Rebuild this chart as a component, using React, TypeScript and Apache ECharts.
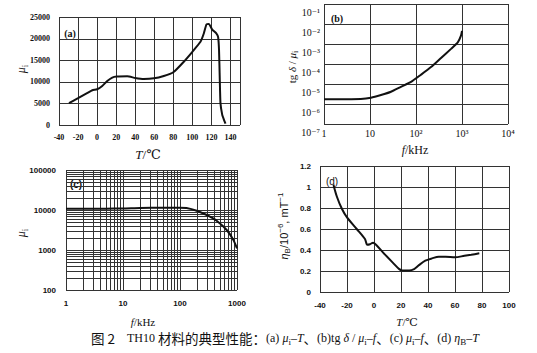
import React, { useEffect, useRef } from "react";
import * as echarts from "echarts";

// (a) μi – T
const aTemp = [-29.5, -20, -9.6, -5, 0, 5.4, 10.7, 15.9, 20.5, 31.7, 40, 49, 59.6, 70, 80, 91, 100, 108.5, 112, 114.8, 117.3, 120.8, 125.3, 127, 128, 128.7, 129.5, 131.3, 133, 134.8];
const aMu = [5060, 6200, 7500, 8050, 8280, 9050, 10200, 10970, 11200, 11270, 10890, 10660, 10810, 11350, 12200, 14650, 16950, 19250, 21170, 23300, 23400, 22100, 21170, 20400, 17300, 11200, 5060, 2400, 1300, 300];
const aXRange = [-40, 150];
const aYRange = [0, 25000];
const aXGrid = [-20, 0, 20, 40, 60, 80, 100, 120, 140];
const aYGrid = [5000, 10000, 15000, 20000];

// (b) tgδ/μi – f
const bFreq = [1, 3, 6.3, 10.5, 17.3, 28.6, 47, 78, 128, 212, 350, 577, 810, 950, 1000];
const bTan = [1.75e-6, 1.75e-6, 1.78e-6, 2.05e-6, 2.8e-6, 4.1e-6, 7.2e-6, 1.27e-5, 2.9e-5, 7.0e-5, 2.0e-4, 5.7e-4, 1.2e-3, 2.6e-3, 4.5e-3];
const bXRange = [1, 10000];
const bYRange = [1e-7, 1e-1];
const bXGrid = [10, 100, 1000];
const bYGrid = [1e-6, 1e-5, 1e-4, 1e-3, 1e-2];

// (c) μi – f
const cFreq = [1, 5, 10, 20, 50, 100, 130, 196, 295, 439, 660, 865, 1000];
const cMu = [10800, 10800, 10900, 11300, 11400, 11400, 11200, 9600, 7500, 5400, 3160, 1780, 1100];
const cXRange = [1, 1000];
const cYRange = [100, 100000];
const cXDecades = [1, 10, 100];
const cYDecades = [100, 1000, 10000];
const logMult = [1, 2, 3, 4, 5, 6, 7, 8, 9];

// (d) ηB – T
const dTemp = [-30, -27.4, -23.7, -20, -12.8, -6.7, -5, -3, -0.7, 1.7, 6.6, 13.9, 18.7, 21, 26, 29.7, 33.3, 38, 43, 48, 53, 60, 67, 72, 78];
const dEta = [1.02, 0.905, 0.79, 0.71, 0.6, 0.505, 0.45, 0.455, 0.47, 0.448, 0.378, 0.28, 0.218, 0.205, 0.205, 0.218, 0.256, 0.298, 0.32, 0.336, 0.336, 0.33, 0.345, 0.355, 0.368];
const dXRange = [-40, 100];
const dYRange = [0, 1.2];
const dXGrid = [-20, 0, 20, 40, 60, 80];
const dYGrid = [0.2, 0.4, 0.6, 0.8, 1.0];

const SUP: Record<string, string> = { "-": "⁻", "0": "⁰", "1": "¹", "2": "²", "3": "³", "4": "⁴", "5": "⁵", "6": "⁶", "7": "⁷", "8": "⁸", "9": "⁹" };
const pow10Label = (v: number) => {
  const e = Math.round(Math.log10(v));
  if (e === 0) return "1";
  if (e === 1) return "10";
  return "10" + String(e).split("").map((c) => SUP[c]).join("");
};
const plain = (v: number) => String(Math.round(v));

const INK = "#111";
const GRIDC = "#333";
const SERIF = "'Liberation Serif', 'DejaVu Serif', serif";
const SANS = "'Liberation Sans', Arial, sans-serif";

export default function App() {
  const ref = useRef<HTMLDivElement>(null);
  useEffect(() => {
    if (!ref.current) return;
    const chart = echarts.init(ref.current, undefined, { renderer: "svg" });

    const cXLines: number[] = [];
    cXDecades.forEach((d) => logMult.forEach((m) => { if (d * m > cXRange[0]) cXLines.push(d * m); }));
    const cYLines: number[] = [];
    cYDecades.forEach((d) => logMult.forEach((m) => { if (d * m > cYRange[0]) cYLines.push(d * m); }));

    // grid lines and frame: a custom series; every item is one line [x1, y1, x2, y2] placed by the axes' scales
    const gridSeries = (idx: number, xs: number[], ys: number[], xr: number[], yr: number[]) => {
      const data: number[][] = [];
      [xr[0], ...xs, xr[1]].forEach((x) => data.push([x, yr[0], x, yr[1]]));
      [yr[0], ...ys, yr[1]].forEach((y) => data.push([xr[0], y, xr[1], y]));
      return {
        type: "custom", xAxisIndex: idx, yAxisIndex: idx, silent: true, z: 5, clip: false,
        encode: { x: [0, 2], y: [1, 3] },
        renderItem: (_p: any, api: any) => {
          const p1 = api.coord([api.value(0), api.value(1)]);
          const p2 = api.coord([api.value(2), api.value(3)]);
          const vertical = Math.abs(p1[0] - p2[0]) < 0.5;
          const cx = Math.round(p1[0]) + 0.5;
          const cy = Math.round(p1[1]) + 0.5;
          return {
            type: "line",
            z2: 10,
            shape: vertical
              ? { x1: cx, y1: p1[1], x2: cx, y2: p2[1] }
              : { x1: p1[0], y1: cy, x2: p2[0], y2: cy },
            style: { stroke: GRIDC, lineWidth: 1, opacity: 1 },
          };
        },
        data,
      };
    };

    const gridBase = { show: false, containLabel: false };
    const noSplit = { show: false };
    const axLine = () => ({ show: false, onZero: false });
    const tick = { show: false };

    const lblSerif = { color: INK, fontFamily: SERIF, fontSize: 8, fontWeight: "bold" as const };
    const lblSans = { color: INK, fontFamily: SANS, fontSize: 8, fontWeight: "bold" as const };

    const rich = (size: number, family: string) => ({
      t: { fontSize: size, fontFamily: family, color: INK, lineHeight: size + 4 },
      i: { fontSize: size, fontFamily: family, fontStyle: "italic", color: INK, lineHeight: size + 4 },
      z: { fontSize: size + 1.5, fontFamily: "'Noto Sans CJK SC', sans-serif", color: INK, lineHeight: size + 4 },
      sub: { fontSize: size - 3, fontFamily: family, color: INK, verticalAlign: "bottom", lineHeight: size - 3 },
      sup: { fontSize: size - 3, fontFamily: family, color: INK, verticalAlign: "top", lineHeight: size - 3 },
    });

    const txt = (x: number, y: number, text: string, size: number, family: string, rotate = false, weight = "normal") => ({
      type: "text",
      x,
      y,
      rotation: rotate ? Math.PI / 2 : 0,
      style: {
        text,
        fill: INK,
        fontSize: size,
        fontFamily: family,
        fontWeight: weight,
        align: "center",
        verticalAlign: "middle",
        rich: rich(size, family),
      },
    });

    const curve = (idx: number, xs: number[], ys: number[], smooth: number) => ({
      type: "line", xAxisIndex: idx, yAxisIndex: idx, showSymbol: false, smooth, z: 8,
      lineStyle: { color: INK, width: 2 },
      data: xs.map((x, i) => [x, ys[i]]),
    });

    chart.setOption({
      animation: false,
      backgroundColor: "#fff",
      grid: [
        { ...gridBase, left: 59, top: 17, width: 181, height: 108 },
        { ...gridBase, left: 324, top: 4, width: 184, height: 120 },
        { ...gridBase, left: 66, top: 170, width: 171, height: 120 },
        { ...gridBase, left: 320, top: 166, width: 189, height: 126 },
      ],
      xAxis: [
        {
          gridIndex: 0, type: "value", min: aXRange[0], max: aXRange[1], interval: 20,
          axisLine: axLine(), axisTick: tick, splitLine: noSplit,
          axisLabel: { ...lblSerif, margin: 8, showMaxLabel: false, formatter: plain },
        },
        {
          gridIndex: 1, type: "log", logBase: 10, min: bXRange[0], max: bXRange[1],
          axisLine: axLine(), axisTick: tick, splitLine: noSplit,
          axisLabel: { ...lblSerif, fontWeight: "normal", fontSize: 10, margin: 4, formatter: pow10Label },
        },
        {
          gridIndex: 2, type: "log", logBase: 10, min: cXRange[0], max: cXRange[1],
          axisLine: axLine(), axisTick: tick, splitLine: noSplit,
          axisLabel: { ...lblSans, margin: 9, formatter: plain },
        },
        {
          gridIndex: 3, type: "value", min: dXRange[0], max: dXRange[1], interval: 20,
          axisLine: axLine(), axisTick: tick, splitLine: noSplit,
          axisLabel: { ...lblSans, margin: 9, formatter: plain },
        },
      ],
      yAxis: [
        {
          gridIndex: 0, type: "value", min: aYRange[0], max: aYRange[1], interval: 5000,
          axisLine: axLine(), axisTick: tick, splitLine: noSplit,
          axisLabel: { ...lblSerif, margin: 9, formatter: plain },
        },
        {
          gridIndex: 1, type: "log", logBase: 10, min: bYRange[0], max: bYRange[1],
          axisLine: axLine(), axisTick: tick, splitLine: noSplit,
          axisLabel: { ...lblSerif, fontWeight: "normal", fontSize: 10, margin: 4, verticalAlign: "top", padding: [3, 0, 0, 0], formatter: pow10Label },
        },
        {
          gridIndex: 2, type: "log", logBase: 10, min: cYRange[0], max: cYRange[1],
          axisLine: axLine(), axisTick: tick, splitLine: noSplit,
          axisLabel: { ...lblSans, margin: 10, formatter: plain },
        },
        {
          gridIndex: 3, type: "value", min: dYRange[0], max: dYRange[1], interval: 0.2,
          axisLine: axLine(), axisTick: tick, splitLine: noSplit,
          axisLabel: {
            ...lblSans, margin: 9,
            formatter: (v: number) => (Math.abs(v) < 1e-9 ? "0" : Math.abs(v - 1) < 1e-9 ? "1" : v.toFixed(1)),
          },
        },
      ],
      series: [
        gridSeries(0, aXGrid, aYGrid, aXRange, aYRange),
        gridSeries(1, bXGrid, bYGrid, bXRange, bYRange),
        gridSeries(2, cXLines, cYLines, cXRange, cYRange),
        gridSeries(3, dXGrid, dYGrid, dXRange, dYRange),
        curve(0, aTemp, aMu, 0.15),
        curve(1, bFreq, bTan, 0.2),
        curve(2, cFreq, cMu, 0.2),
        curve(3, dTemp, dEta, 0.3),
      ],
      graphic: [
        txt(70, 33, "(a)", 10, SERIF, false, "bold"),
        txt(337, 18, "(b)", 10, SERIF, false, "bold"),
        txt(76, 184, "(c)", 10, SANS, false, "bold"),
        txt(332, 181, "(d)", 10, SANS, false, "normal"),
        txt(148, 154, "{i|T}{t|/℃}", 13, SERIF),
        txt(415, 150, "{i|f}{t|/kHz}", 12, SERIF),
        txt(143, 322, "{i|f}{t|/kHz}", 11, SERIF),
        txt(407, 322, "{i|T}{t|/℃}", 11, SERIF),
        txt(21, 69, "{i|μ}{sub|i}", 12, SERIF, true),
        txt(292, 67, "{t|tg }{i|δ}{t| / }{i|μ}{sub|i}", 11, SERIF, true),
        txt(21, 233, "{i|μ}{sub|i}", 12, SERIF, true),
        txt(284, 226, "{i|η}{sub|B}{t|/10}{sup|−6}{t|, mT}{sup|−1}", 11, SANS, true),
        {
          type: "text",
          x: 285,
          y: 338,
          style: {
            text: "{z|图 2}{t|    TH10 }{z|材料的典型性能：}{t|(a) }{i|μ}{sub|i}{t|–}{i|T}{z|、}{t|(b)tg }{i|δ}{t| / }{i|μ}{sub|i}{t|–}{i|f}{z|、}{t|(c) }{i|μ}{sub|i}{t|–}{i|f}{z|、}{t|(d) }{i|η}{sub|B}{t|–}{i|T}",
            fill: INK,
            fontSize: 12,
            fontFamily: SERIF,
            align: "center",
            verticalAlign: "middle",
            rich: rich(12, SERIF),
          },
        },
      ],
    });
    return () => chart.dispose();
  }, []);
  return (
    <div
      ref={ref}
      style={{ position: "absolute", left: 0, top: 0, width: 537, height: 353, background: "#fff" }}
    />
  );
}
